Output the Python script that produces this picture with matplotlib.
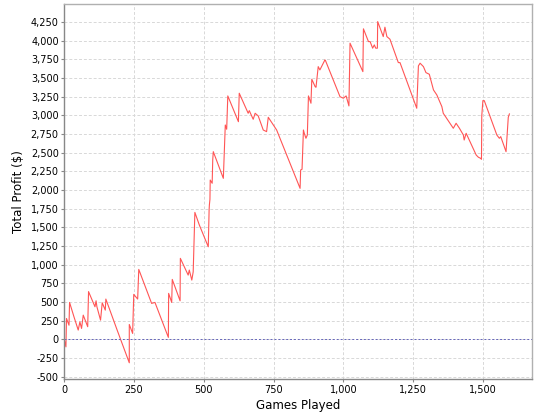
import matplotlib
matplotlib.use("Agg")
import matplotlib.pyplot as plt
from matplotlib.ticker import MultipleLocator, FuncFormatter

# games played / cumulative profit
games = [0, 6, 8, 17, 19, 35, 50, 56, 62, 68, 84, 87, 110, 114, 117, 130, 136, 147, 149,
         190, 233, 233, 245, 249, 263, 267, 313, 325, 373, 374, 385, 387, 415, 416,
         444, 448, 457, 462, 468, 484, 516, 519, 520, 522, 523, 530, 532, 534, 570,
         577, 582, 586, 624, 627, 659, 663, 677, 684, 695, 713, 725, 731, 761, 845,
         847, 852, 857, 860, 866, 871, 875, 884, 887, 899, 902, 910, 916, 934, 936,
         988, 1000, 1010, 1020, 1024, 1070, 1072, 1090, 1096, 1105, 1111, 1116, 1122,
         1123, 1143, 1149, 1156, 1167, 1197, 1203, 1263, 1269, 1275, 1281, 1287, 1296,
         1308, 1323, 1335, 1353, 1358, 1382, 1394, 1404, 1416, 1430, 1433, 1440, 1476,
         1484, 1492, 1495, 1496, 1500, 1505, 1526, 1550, 1559, 1564, 1583, 1591, 1595]
profit = [0, -100, 280, 190, 495, 300, 125, 235, 147, 325, 170, 640, 437, 517, 437, 258, 490, 392, 540,
          120, -313, 200, 80, 603, 540, 937, 482, 495, 27, 616, 495, 803, 517, 1085,
          861, 928, 794, 905, 1700, 1531, 1240, 1730, 1800, 1875, 2133, 2090, 2402, 2513, 2156,
          2870, 2813, 3259, 2914, 3295, 3027, 3062, 2946, 3027, 2991, 2803, 2781, 2973, 2803, 2022,
          2268, 2277, 2803, 2759, 2692, 2736, 3259, 3161, 3482, 3383, 3375, 3651, 3607, 3741, 3732,
          3249, 3228, 3259, 3125, 3965, 3584, 4157, 3986, 3986, 3898, 3942, 3898, 3898,
          4254, 4053, 4179, 4053, 4018, 3705, 3705, 3094, 3661, 3697, 3674, 3651, 3571,
          3549, 3339, 3272, 3116, 3027, 2893, 2826, 2893, 2826, 2736, 2669, 2759, 2468,
          2438, 2424, 2411, 2991, 3196, 3196, 2982, 2736, 2692, 2714, 2513, 2973, 3018]

fig = plt.figure(figsize=(5.4, 4.2), dpi=100)
ax = fig.add_axes([0.119, 0.0976, 0.8667, 0.893])

ax.plot(games, profit, color="#ff5555", lw=0.8)
ax.axhline(0, color="#6666bb", lw=0.7, ls=(0, (2, 2)))

ax.set_xlim(0, 1677)
ax.set_ylim(-530, 4490)
ax.xaxis.set_major_locator(MultipleLocator(250))
ax.yaxis.set_major_locator(MultipleLocator(250))
ax.xaxis.set_major_formatter(FuncFormatter(lambda v, p: f"{v:,.0f}"))
ax.yaxis.set_major_formatter(FuncFormatter(lambda v, p: f"{v:,.0f}"))
ax.grid(True, color="#d8d8d8", lw=0.7, ls=(0, (3, 2)))
ax.set_axisbelow(True)

for s in ax.spines.values():
    s.set_color("#b0b0b0")
    s.set_linewidth(1.0)
ax.spines["left"].set_color("#888888")
ax.spines["bottom"].set_color("#888888")

ax.tick_params(labelsize=7, length=2, color="#888888", pad=2)
ax.set_xlabel("Games Played", fontsize=8.5, labelpad=3)
ax.set_ylabel("Total Profit ($)", fontsize=8.5, labelpad=4)

fig.savefig("out.png", dpi=100, facecolor="white")
